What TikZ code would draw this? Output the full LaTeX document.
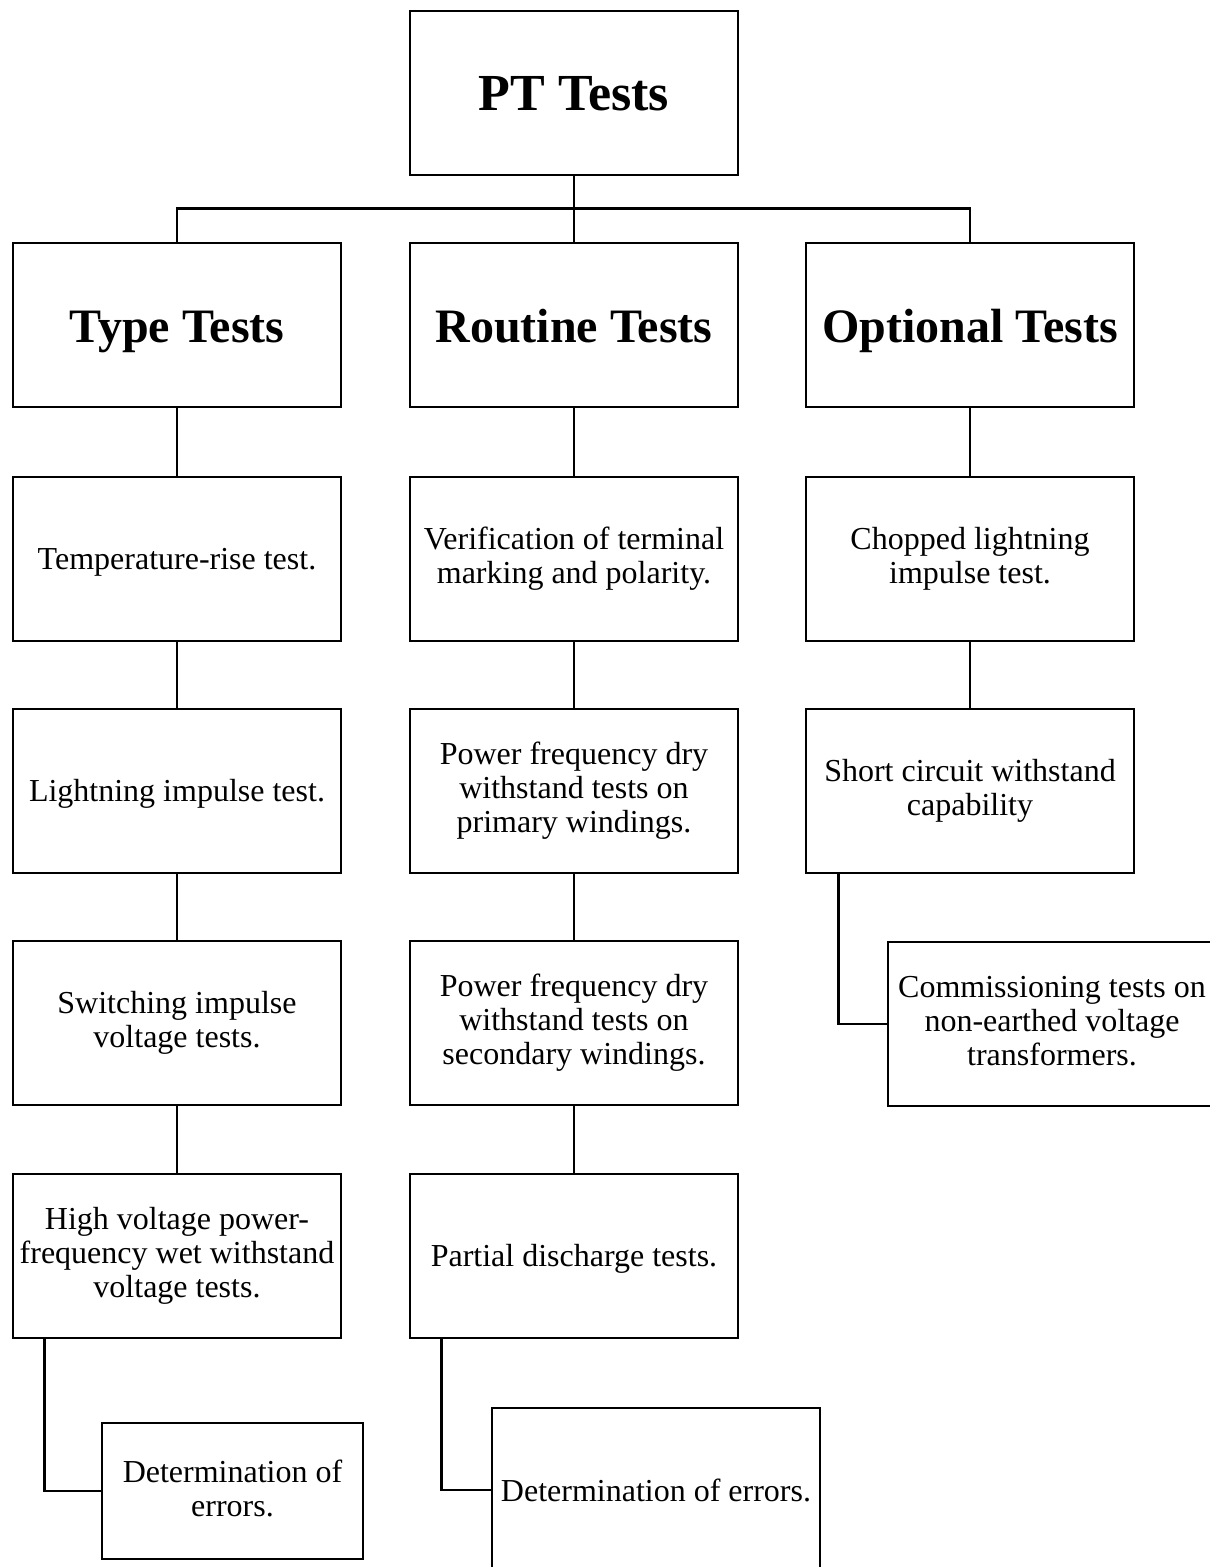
\documentclass[tikz,border=0pt]{standalone}
\usepackage{fontspec}
\setmainfont{Liberation Serif}
\newcommand\mystrutx{\rule[-6pt]{0pt}{34pt}}
\begin{document}
\begin{tikzpicture}[x=1pt,y=-1pt,
  box/.style={draw=black, line width=2.6pt, fill=white, inner sep=0pt,
    minimum width=328pt, minimum height=164pt, align=center,
    font=\fontsize{32}{34}\selectfont,
    execute at begin node=\mystrutx, execute at end node=\mystrutx},
  headbox/.style={draw=black, line width=2.6pt, fill=white, inner sep=0pt,
    minimum width=328pt, minimum height=164pt, align=center,
    text height=34pt, text depth=0pt,
    font=\fontsize{48}{52}\selectfont\bfseries},
  rootbox/.style={headbox, font=\fontsize{52}{56}\selectfont\bfseries},
  smallbox/.style={box, minimum width=261pt, minimum height=136pt},
  link/.style={draw=black, line width=2.6pt}]
\useasboundingbox (0,0) rectangle (1210,1567);

% root
\node[rootbox] (pt) at (574,93) {PT Tests};

% headers
\node[headbox] (type) at (177,325) {Type Tests};
\node[headbox] (rout) at (574,325) {Routine Tests};
\node[headbox] (opt) at (970,325) {Optional Tests};

% type column
\node[box] (t1) at (177,559) {Temperature-rise test.};
\node[box] (t2) at (177,791) {Lightning impulse test.};
\node[box] (t3) at (177,1023) {Switching impulse\\voltage tests.};
\node[box] (t4) at (177,1256) {High voltage power-\\frequency wet withstand\\voltage tests.};
\node[smallbox] (t5) at (232.5,1491) {Determination of\\errors.};

% routine column
\node[box] (r1) at (574,559) {Verification of terminal\\marking and polarity.};
\node[box] (r2) at (574,791) {Power frequency dry\\withstand tests on\\primary windings.};
\node[box] (r3) at (574,1023) {Power frequency dry\\withstand tests on\\secondary windings.};
\node[box] (r4) at (574,1256) {Partial discharge tests.};
\node[box] (r5) at (656,1490) {Determination of errors.};

% optional column
\node[box] (o1) at (970,559) {Chopped lightning\\impulse test.};
\node[box] (o2) at (970,791) {Short circuit withstand\\capability};
\node[box] (o3) at (1052,1024) {Commissioning tests on\\non-earthed voltage\\transformers.};

% connectors
\draw[link] (pt.south) -- (rout.north);
\draw[link] (type.north) -- ++(0,-33) -| (opt.north);

\draw[link] (type.south) -- (t1.north);
\draw[link] (t1.south) -- (t2.north);
\draw[link] (t2.south) -- (t3.north);
\draw[link] (t3.south) -- (t4.north);
\draw[link] ([xshift=33pt]t4.south west) |- (t5.west);

\draw[link] (rout.south) -- (r1.north);
\draw[link] (r1.south) -- (r2.north);
\draw[link] (r2.south) -- (r3.north);
\draw[link] (r3.south) -- (r4.north);
\draw[link] ([xshift=33pt]r4.south west) |- (r5.west);

\draw[link] (opt.south) -- (o1.north);
\draw[link] (o1.south) -- (o2.north);
\draw[link] ([xshift=34pt]o2.south west) |- (o3.west);
\end{tikzpicture}
\end{document}
